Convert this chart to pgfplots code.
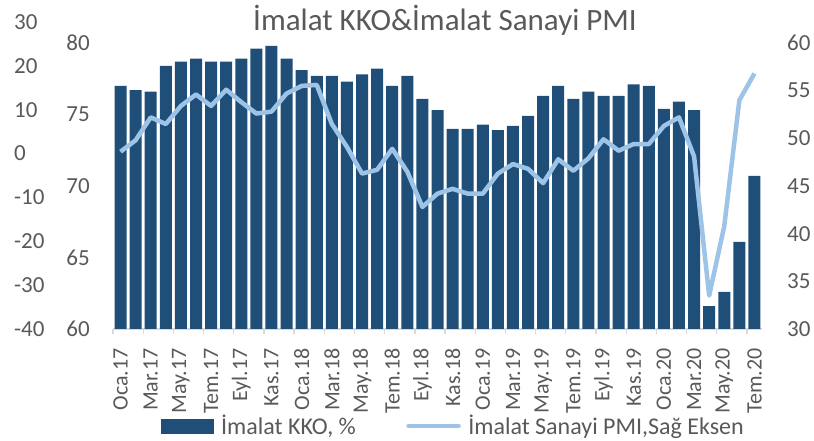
\documentclass[border=0pt]{standalone}
\usepackage{fontspec}
\setmainfont{Carlito}
\usepackage{pgfplots}
\usepackage{pgfplotstable}
\pgfplotsset{compat=1.18}

\definecolor{kko}{HTML}{1F4E79}
\definecolor{pmi}{HTML}{9DC3E6}
\definecolor{txt}{HTML}{595959}
\definecolor{axl}{HTML}{D9D9D9}

% month index, capacity utilisation (%), manufacturing PMI
\pgfplotstableread{
m  kko   pmi
1  77.0  48.6
2  76.7  49.8
3  76.6  52.2
4  78.4  51.5
5  78.7  53.4
6  78.9  54.6
7  78.7  53.4
8  78.7  55.1
9  78.9  53.8
10 79.6  52.6
11 79.8  52.8
12 78.9  54.7
13 78.1  55.5
14 77.7  55.6
15 77.7  51.5
16 77.3  49.1
17 77.8  46.3
18 78.2  46.7
19 77.0  48.9
20 77.7  46.5
21 76.1  42.8
22 75.3  44.2
23 74.0  44.7
24 74.0  44.2
25 74.3  44.2
26 73.9  46.3
27 74.2  47.3
28 74.9  46.8
29 76.3  45.3
30 77.0  47.8
31 76.1  46.6
32 76.6  47.9
33 76.3  49.9
34 76.3  48.7
35 77.1  49.4
36 77.0  49.4
37 75.4  51.3
38 75.9  52.2
39 75.3  48.1
40 61.6  33.5
41 62.6  40.8
42 66.1  54.0
43 70.7  56.8
}\data

\pgfplotsset{
  base/.style={
    scale only axis, width=649pt, height=286pt,
    at={(0pt,0pt)}, anchor=south west,
    xmin=0.5, xmax=43.5,
    axis line style={-},
    tick label style={text=txt, font=\fontsize{23}{23}\selectfont},
    yticklabel style={inner sep=0pt},
    major tick length=0pt,
  },
}

\begin{document}
\begin{tikzpicture}
\path[use as bounding box] (-113pt,-112pt) rectangle (701pt,329pt);

% far left scale (labels only)
\begin{axis}[
  scale only axis, width=649pt, height=307pt,
  at={(0pt,0pt)}, anchor=south west,
  xmin=0.5, xmax=43.5, ymin=-40, ymax=30,
  hide x axis,
  axis y line*=left, y axis line style={draw=none},
  major tick length=0pt,
  ytick={-40,-30,...,30},
  yticklabels={-40,-30,-20,-10,0,10,20,30},
  yticklabel style={anchor=west, inner sep=0pt, text=txt, font=\fontsize{23}{23}\selectfont},
  yticklabel shift=99pt,
]
\end{axis}

% bars: capacity utilisation
\begin{axis}[
  base,
  ymin=60, ymax=80,
  axis x line*=bottom, axis y line*=left,
  y axis line style={draw=none},
  x axis line style={draw=axl, line width=1.3pt},
  ytick={60,65,...,80},
  yticklabels={60,65,70,75,80},
  yticklabel shift=23pt,
  xtick={1,3,...,43},
  xticklabels={Oca.17,Mar.17,May.17,Tem.17,Eyl.17,Kas.17,Oca.18,Mar.18,May.18,Tem.18,Eyl.18,Kas.18,Oca.19,Mar.19,May.19,Tem.19,Eyl.19,Kas.19,Oca.20,Mar.20,May.20,Tem.20},
  xticklabel style={rotate=90, anchor=east, inner sep=0pt, font=\fontsize{22}{22}\selectfont},
  xticklabel shift=19pt,
  minor xtick={0.5,2.5,...,42.5},
  tick align=outside,
  minor tick length=5pt,
  minor x tick style={draw=axl, line width=1.3pt},
]
\addplot[ybar, bar width=12pt, fill=kko, draw=none] table[x=m, y=kko] {\data};
\end{axis}

% line: PMI, right scale
\begin{axis}[
  base,
  ymin=30, ymax=60,
  hide x axis,
  axis y line*=right, y axis line style={draw=none},
  ytick={30,35,...,60},
  yticklabels={30,35,40,45,50,55,60},
  yticklabel style={anchor=west},
  yticklabel shift=25pt,
  legend columns=2,
  legend style={at={(axis description cs:0.074,-0.339)}, anchor=west,
    draw=none, fill=none, inner sep=0pt,
    font=\fontsize{24}{24}\selectfont, text=txt,
    nodes={inner sep=3.5pt},
    /tikz/every even column/.append style={column sep=47pt}},
  legend cell align=left,
]
\addlegendimage{legend image code/.code={\fill[kko] (0pt,-7pt) rectangle (52pt,7pt); \path (56pt,0pt);}}
\addlegendentry{İmalat KKO, \%}
\addplot[pmi, line width=4.5pt, line join=round,
  legend image code/.code={\draw[pmi, line width=4.5pt, line cap=round] (2pt,0pt) -- (52pt,0pt); \path (56pt,0pt);}]
  table[x=m, y=pmi] {\data};
\addlegendentry{İmalat Sanayi PMI,Sağ Eksen}
\end{axis}

\node[anchor=base, text=txt, font=\fontsize{31}{31}\selectfont] at (332pt,298pt) {İmalat KKO\&İmalat Sanayi PMI};
\end{tikzpicture}
\end{document}
